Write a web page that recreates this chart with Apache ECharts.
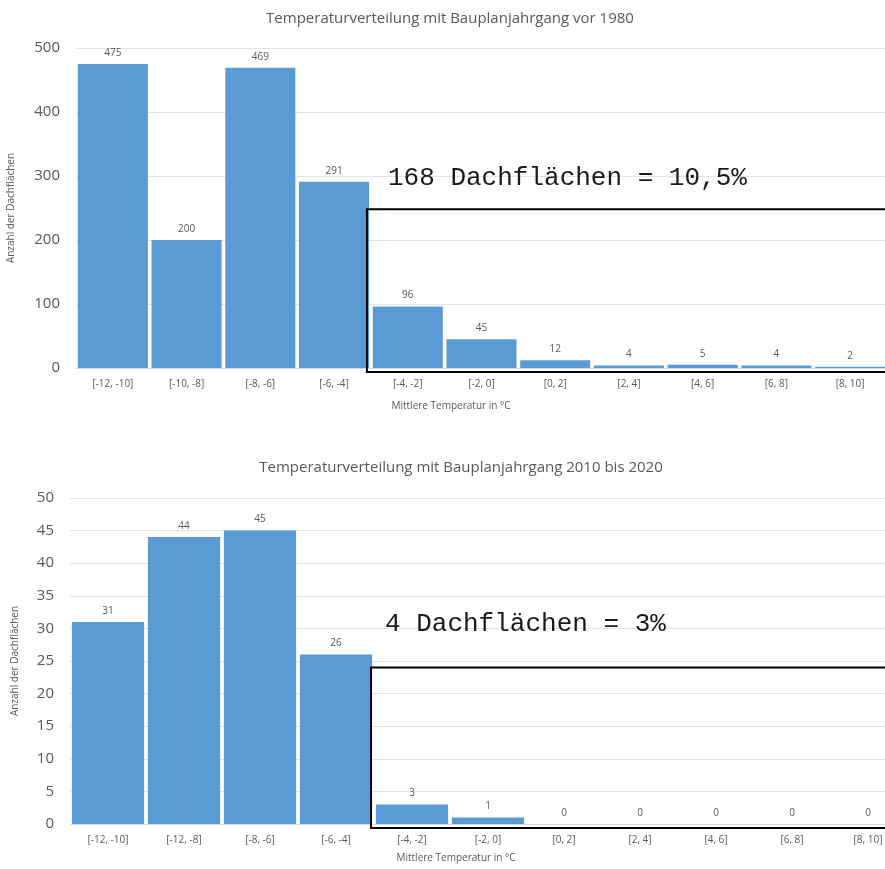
<!DOCTYPE html>
<html><head><meta charset="utf-8">
<script src="https://cdn.jsdelivr.net/npm/echarts@6/dist/echarts.min.js"></script>
<style>html,body{margin:0;padding:0;background:#fff}#c{width:885px;height:869px}</style>
</head><body><div id="c"></div>
<script>
var catsTop = ["[-12, -10]", "[-10, -8]", "[-8, -6]", "[-6, -4]", "[-4, -2]", "[-2, 0]", "[0, 2]", "[2, 4]", "[4, 6]", "[6, 8]", "[8, 10]"];
var valsTop = [475, 200, 469, 291, 96, 45, 12, 4, 5, 4, 2];
var catsBot = ["[-12, -10]", "[-12, -8]", "[-8, -6]", "[-6, -4]", "[-4, -2]", "[-2, 0]", "[0, 2]", "[2, 4]", "[4, 6]", "[6, 8]", "[8, 10]"];
var valsBot = [31, 44, 45, 26, 3, 1, 0, 0, 0, 0, 0];
var titleTop = "Temperaturverteilung mit Bauplanjahrgang vor 1980";
var titleBot = "Temperaturverteilung mit Bauplanjahrgang 2010 bis 2020";
var noteTop = "168 Dachflächen = 10,5%";
var noteBot = "4 Dachflächen = 3%";
var boxTopValue = 248, boxBotValue = 24;
var xName = "Mittlere Temperatur in °C";
var yName = "Anzahl der Dachflächen";

var FONT = "Open Sans";
var GRAY = "#595959";
var BLUE = "#5B9BD5";

var chart = echarts.init(document.getElementById('c'));
function xAx(idx, cats){
  return {type:'category', gridIndex:idx, data:cats,
    axisLine:{show:true, lineStyle:{color:'#d9d9d9'}}, axisTick:{show:false},
    axisLabel:{color:GRAY, fontFamily:FONT, fontSize:10, margin:11, interval:0}};
}
function yAx(idx, max, interval, gap){
  return {type:'value', gridIndex:idx, min:0, max:max, interval:interval,
    name:yName, nameLocation:'middle', nameGap:gap, nameRotate:90,
    nameTextStyle:{color:GRAY, fontFamily:FONT, fontSize:10},
    axisLine:{show:false}, axisTick:{show:false},
    splitLine:{lineStyle:{color:'#e3e3e3'}},
    axisLabel:{color:GRAY, fontFamily:FONT, fontSize:15, margin:16}};
}
function ser(idx, vals){
  return {type:'bar', xAxisIndex:idx, yAxisIndex:idx, data:vals, barCategoryGap:'5%',
    itemStyle:{color:BLUE}, silent:true,
    label:{show:true, position:'top', distance:6, color:GRAY, fontFamily:FONT, fontSize:10}};
}
chart.setOption({
  animation:false,
  title:[
    {text:titleTop, left:445, top:6, textAlign:'center', textStyle:{color:GRAY, fontFamily:FONT, fontSize:15, fontWeight:'normal'}},
    {text:titleBot, left:456, top:455, textAlign:'center', textStyle:{color:GRAY, fontFamily:FONT, fontSize:15, fontWeight:'normal'}}
  ],
  grid:[
    {left:76, width:811, top:48, height:320, outerBoundsMode:'none', containLabel:false},
    {left:70, width:836, top:498, height:326, outerBoundsMode:'none', containLabel:false}
  ],
  xAxis:[xAx(0, catsTop), xAx(1, catsBot)],
  yAxis:[yAx(0, 500, 100, 60), yAx(1, 50, 5, 50)],
  series:[ser(0, valsTop), ser(1, valsBot)]
});

function boxFor(gi, value, shift){
  var c3 = chart.convertToPixel({xAxisIndex:gi, yAxisIndex:gi}, [3, value]);
  var c4 = chart.convertToPixel({xAxisIndex:gi, yAxisIndex:gi}, [4, 0]);
  var left = (c3[0] + c4[0]) / 2 + shift;
  return {type:'rect', shape:{x:left, y:c3[1], width:885 - left + 5, height:c4[1] - c3[1] + 4},
    style:{fill:'none', stroke:'#000', lineWidth:2}, z:100};
}
chart.setOption({
  graphic:[
    boxFor(0, boxTopValue, -4),
    boxFor(1, boxBotValue, -3),
    {type:'text', x:388, y:178, style:{text:noteTop, font:'26px "Liberation Mono"', fill:'#1a1a1a', textVerticalAlign:'middle'}, z:101},
    {type:'text', x:385, y:624, style:{text:noteBot, font:'26px "Liberation Mono"', fill:'#1a1a1a', textVerticalAlign:'middle'}, z:101},
    {type:'text', x:451, y:406, style:{text:xName, font:'10px "Open Sans"', fill:GRAY, textAlign:'center', textVerticalAlign:'middle'}},
    {type:'text', x:456, y:858, style:{text:xName, font:'10px "Open Sans"', fill:GRAY, textAlign:'center', textVerticalAlign:'middle'}}
  ]
});
</script></body></html>
